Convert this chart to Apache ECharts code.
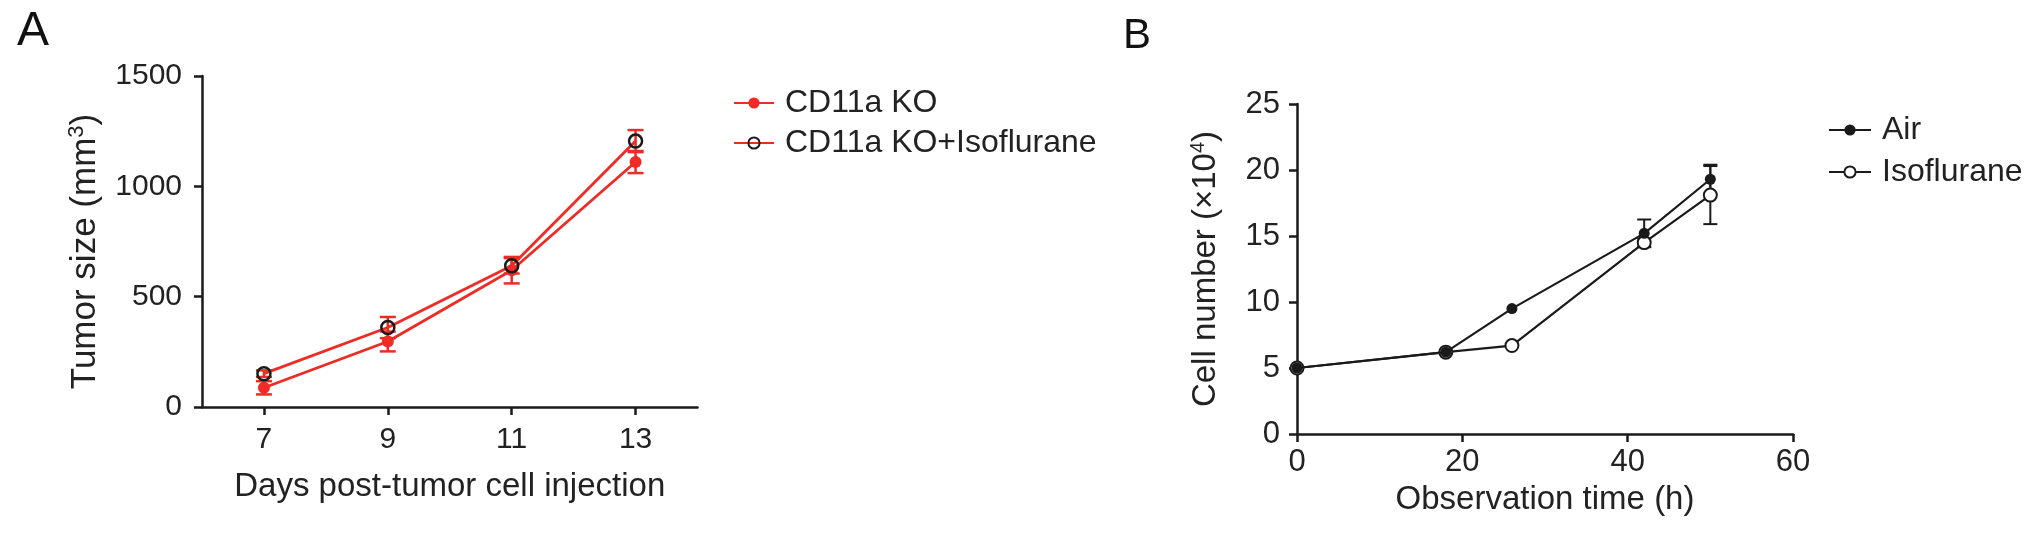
<!DOCTYPE html>
<html>
<head>
<meta charset="utf-8">
<script src="https://cdn.jsdelivr.net/npm/echarts@6/dist/echarts.min.js"></script>
<style>
html,body{margin:0;padding:0;background:#fff;}
#c{width:2032px;height:537px;}
</style>
</head>
<body>
<div id="c"></div>
<script>
// Panel A data
const daysA = [7, 9, 11, 13];
const koMean = [87, 297, 620, 1110];
const koErr = [30, 45, 60, 50];
const koIsoMean = [151, 360, 640, 1205];
const koIsoErr = [15, 48, 35, 50];
const yTicksA = [0, 500, 1000, 1500];

// Panel B data
const timeB = [0, 18, 26, 42, 50];
const airMean = [5.0, 6.2, 9.5, 15.2, 19.3];
const airErr = [0, 0, 0, 1.05, 1.1];
const isoMean = [5.0, 6.2, 6.7, 14.5, 18.1];
const isoErr = [0, 0, 0, 0.3, 2.2];

const RED = '#ee2b24';
const INK = '#1a1a1a';
const FONT = 'Liberation Sans';

function pts(xs, ys) { return xs.map((x, i) => [x, ys[i]]); }
function errPts(xs, ys, es) { return xs.map((x, i) => [x, ys[i], es[i]]); }
const plain = v => String(v);

function errSeries(name, xAxisIndex, yAxisIndex, data, color, capHalf, lw) {
  return {
    name: name, type: 'custom', xAxisIndex: xAxisIndex, yAxisIndex: yAxisIndex,
    z: 1, silent: true, data: data,
    renderItem: function (params, api) {
      const x = api.value(0), m = api.value(1), e = api.value(2);
      if (!e) return null;
      const t = api.coord([x, m + e]);
      const b = api.coord([x, m - e]);
      const st = { stroke: color, lineWidth: lw };
      return {
        type: 'group',
        children: [
          { type: 'line', shape: { x1: t[0], y1: t[1], x2: b[0], y2: b[1] }, style: st },
          { type: 'line', shape: { x1: t[0] - capHalf, y1: t[1], x2: t[0] + capHalf, y2: t[1] }, style: st },
          { type: 'line', shape: { x1: b[0] - capHalf, y1: b[1], x2: b[0] + capHalf, y2: b[1] }, style: st }
        ]
      };
    }
  };
}

const axisCommon = {
  axisLine: { lineStyle: { color: INK, width: 2.5 } },
  axisTick: { length: 8, lineStyle: { color: INK, width: 2.5 } },
  splitLine: { show: false },
  nameTextStyle: { color: '#222', fontSize: 32, fontFamily: FONT }
};
function superRich(fs) {
  return {
    a: { fontSize: fs, color: '#222', fontFamily: FONT },
    s: { fontSize: Math.round(fs * 0.62), color: '#222', fontFamily: FONT, verticalAlign: 'top', padding: [0, 0, Math.round(fs * 0.45), 0] }
  };
}

const chart = echarts.init(document.getElementById('c'), null, { renderer: 'canvas' });
chart.setOption({
  backgroundColor: '#fff',
  animation: false,
  textStyle: { fontFamily: FONT },
  title: [
    { text: 'A', left: 12, top: 3, textStyle: { fontSize: 48, fontWeight: 'normal', color: '#111', fontFamily: FONT } },
    { text: 'B', left: 1118, top: 10, textStyle: { fontSize: 42, fontWeight: 'normal', color: '#111', fontFamily: FONT } }
  ],
  grid: [
    { left: 202, top: 76, width: 495.5, height: 331 },
    { left: 1297, top: 104, width: 496, height: 330 }
  ],
  legend: [
    {
      data: ['CD11a KO', 'CD11a KO+Isoflurane'], orient: 'vertical', left: 728, top: 82,
      itemWidth: 40, itemHeight: 14, itemGap: 8,
      textStyle: { fontSize: 32, color: '#222', fontFamily: FONT, lineHeight: 32, padding: [0, 0, 0, 6] }
    },
    {
      data: ['Air', 'Isoflurane'], orient: 'vertical', left: 1823, top: 109,
      itemWidth: 42, itemHeight: 14, itemGap: 10,
      textStyle: { fontSize: 32, color: '#222', fontFamily: FONT, lineHeight: 32, padding: [0, 0, 0, 6] }
    }
  ],
  xAxis: [
    Object.assign({}, axisCommon, {
      type: 'value', gridIndex: 0, min: 6, max: 14,
      axisTick: { length: 8, lineStyle: { color: INK, width: 2.5 }, customValues: daysA },
      axisLabel: { color: '#222', fontSize: 30, fontFamily: FONT, margin: 18, customValues: daysA, formatter: plain },
      name: 'Days post-tumor cell injection', nameLocation: 'middle', nameGap: 63,
      nameTextStyle: { color: '#222', fontSize: 33, fontFamily: FONT }
    }),
    Object.assign({}, axisCommon, {
      type: 'value', gridIndex: 1, min: 0, max: 60, interval: 20,
      axisLabel: { color: '#222', fontSize: 31, fontFamily: FONT, margin: 13, formatter: plain },
      name: 'Observation time (h)', nameLocation: 'middle', nameGap: 49,
      nameTextStyle: { color: '#222', fontSize: 33, fontFamily: FONT }
    })
  ],
  yAxis: [
    Object.assign({}, axisCommon, {
      type: 'value', gridIndex: 0, min: 0, max: 1500, interval: 500,
      axisLabel: { color: '#222', fontSize: 30, fontFamily: FONT, margin: 20, customValues: yTicksA, formatter: plain },
      name: '{a|Tumor size (mm}{s|3}{a|)}', nameLocation: 'middle', nameGap: 98,
      nameTextStyle: { rich: superRich(35), padding: [0, 20, 0, 0] }
    }),
    Object.assign({}, axisCommon, {
      type: 'value', gridIndex: 1, min: 0, max: 25, interval: 5,
      axisLabel: { color: '#222', fontSize: 31, fontFamily: FONT, margin: 17, formatter: plain },
      name: '{a|Cell number (×10}{s|4}{a|)}', nameLocation: 'middle', nameGap: 74,
      nameTextStyle: { rich: superRich(33) }
    })
  ],
  series: [
    errSeries('koErr', 0, 0, errPts(daysA, koMean, koErr), RED, 8, 2.5),
    errSeries('koIsoErr', 0, 0, errPts(daysA, koIsoMean, koIsoErr), RED, 8, 2.5),
    {
      name: 'CD11a KO', type: 'line', xAxisIndex: 0, yAxisIndex: 0, z: 3,
      data: pts(daysA, koMean), symbol: 'circle', symbolSize: 12,
      lineStyle: { color: RED, width: 2.8 }, itemStyle: { color: RED }
    },
    {
      name: 'CD11a KO+Isoflurane', type: 'line', xAxisIndex: 0, yAxisIndex: 0, z: 4,
      data: pts(daysA, koIsoMean), symbol: 'circle', symbolSize: 13,
      lineStyle: { color: RED, width: 2.8 },
      itemStyle: { color: 'rgba(255,255,255,0)', borderColor: INK, borderWidth: 2.5 }
    },
    errSeries('airErr', 1, 1, errPts(timeB, airMean, airErr), INK, 7, 2),
    errSeries('isoErr', 1, 1, errPts(timeB, isoMean, isoErr), INK, 7, 2),
    {
      name: 'Isoflurane', type: 'line', xAxisIndex: 1, yAxisIndex: 1, z: 3,
      data: pts(timeB, isoMean), symbol: 'circle', symbolSize: 13,
      lineStyle: { color: INK, width: 2.2 },
      itemStyle: { color: '#fff', borderColor: INK, borderWidth: 2 }
    },
    {
      name: 'Air', type: 'line', xAxisIndex: 1, yAxisIndex: 1, z: 4,
      data: pts(timeB, airMean), symbol: 'circle', symbolSize: 11,
      lineStyle: { color: INK, width: 2.2 }, itemStyle: { color: INK }
    }
  ]
});
</script>
</body>
</html>
